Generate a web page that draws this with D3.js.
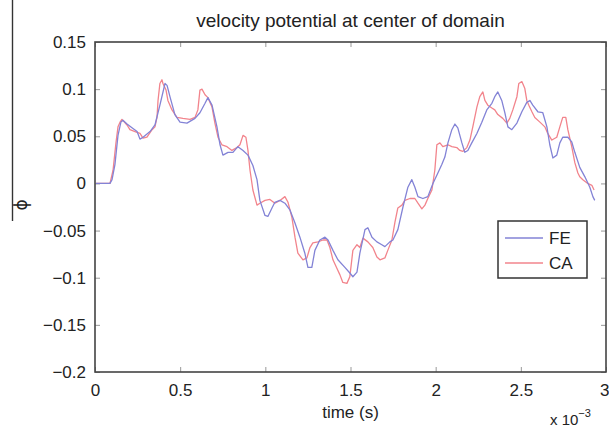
<!DOCTYPE html>
<html>
<head>
<meta charset="utf-8">
<script src="https://cdn.jsdelivr.net/npm/d3@7"></script>
<style>
  body { margin: 0; background: #fff; }
  svg { display: block; font-family: "Liberation Sans", Arial, sans-serif; }
</style>
</head>
<body>
<div id="chart"></div>
<script>
// time in units of 1e-3 s, phi values
const feTime = [0.006, 0.088, 0.100, 0.117, 0.135, 0.152, 0.164, 0.188, 0.217, 0.247, 0.264, 0.282, 0.323, 0.352, 0.381, 0.411, 0.423, 0.440, 0.469, 0.499, 0.540, 0.587, 0.616, 0.646, 0.663, 0.687, 0.716, 0.734, 0.751, 0.781, 0.810, 0.839, 0.869, 0.898, 0.927, 0.951, 0.968, 0.998, 1.015, 1.039, 1.056, 1.086, 1.115, 1.144, 1.174, 1.203, 1.232, 1.250, 1.273, 1.291, 1.320, 1.350, 1.368, 1.397, 1.426, 1.467, 1.496, 1.514, 1.538, 1.555, 1.585, 1.602, 1.626, 1.655, 1.684, 1.702, 1.731, 1.749, 1.778, 1.808, 1.837, 1.860, 1.878, 1.896, 1.925, 1.954, 1.984, 2.013, 2.036, 2.054, 2.072, 2.095, 2.113, 2.130, 2.154, 2.171, 2.189, 2.212, 2.242, 2.271, 2.300, 2.330, 2.347, 2.365, 2.388, 2.406, 2.424, 2.447, 2.477, 2.506, 2.535, 2.553, 2.570, 2.600, 2.629, 2.653, 2.670, 2.688, 2.711, 2.729, 2.746, 2.776, 2.799, 2.817, 2.846, 2.876, 2.905, 2.923, 2.934];
const feValues = [0.0, 0.0, 0.004, 0.020, 0.051, 0.065, 0.067, 0.063, 0.059, 0.055, 0.047, 0.049, 0.055, 0.062, 0.083, 0.106, 0.104, 0.092, 0.073, 0.065, 0.064, 0.069, 0.075, 0.085, 0.091, 0.083, 0.060, 0.041, 0.030, 0.033, 0.033, 0.039, 0.035, 0.030, 0.019, 0.004, -0.018, -0.034, -0.035, -0.026, -0.020, -0.018, -0.021, -0.028, -0.042, -0.057, -0.074, -0.089, -0.089, -0.071, -0.060, -0.057, -0.060, -0.071, -0.081, -0.089, -0.095, -0.099, -0.094, -0.074, -0.049, -0.047, -0.057, -0.062, -0.065, -0.067, -0.062, -0.060, -0.049, -0.025, -0.004, 0.004, -0.004, -0.014, -0.016, -0.014, 0.0, 0.011, 0.020, 0.028, 0.043, 0.057, 0.063, 0.059, 0.043, 0.033, 0.035, 0.043, 0.053, 0.065, 0.078, 0.085, 0.092, 0.097, 0.088, 0.075, 0.060, 0.057, 0.064, 0.076, 0.086, 0.088, 0.083, 0.076, 0.075, 0.060, 0.041, 0.027, 0.030, 0.043, 0.049, 0.049, 0.044, 0.033, 0.017, 0.007, -0.004, -0.014, -0.018];

const caTime = [0.006, 0.088, 0.106, 0.123, 0.135, 0.147, 0.158, 0.188, 0.205, 0.235, 0.264, 0.282, 0.305, 0.335, 0.352, 0.364, 0.370, 0.381, 0.393, 0.399, 0.417, 0.428, 0.452, 0.481, 0.516, 0.558, 0.587, 0.604, 0.616, 0.628, 0.646, 0.663, 0.687, 0.704, 0.722, 0.745, 0.775, 0.804, 0.833, 0.851, 0.869, 0.886, 0.898, 0.910, 0.927, 0.951, 0.968, 0.998, 1.027, 1.056, 1.086, 1.115, 1.133, 1.156, 1.174, 1.191, 1.221, 1.244, 1.262, 1.279, 1.309, 1.338, 1.362, 1.379, 1.397, 1.420, 1.438, 1.455, 1.479, 1.496, 1.514, 1.538, 1.555, 1.573, 1.602, 1.631, 1.655, 1.673, 1.702, 1.719, 1.743, 1.761, 1.778, 1.802, 1.819, 1.849, 1.878, 1.896, 1.919, 1.937, 1.954, 1.978, 1.995, 2.007, 2.025, 2.042, 2.072, 2.095, 2.124, 2.142, 2.160, 2.183, 2.201, 2.218, 2.242, 2.259, 2.277, 2.289, 2.306, 2.330, 2.347, 2.365, 2.394, 2.418, 2.435, 2.453, 2.477, 2.488, 2.506, 2.523, 2.535, 2.547, 2.565, 2.582, 2.612, 2.641, 2.658, 2.682, 2.711, 2.729, 2.746, 2.764, 2.776, 2.799, 2.817, 2.835, 2.846, 2.864, 2.893, 2.917, 2.930];
const caValues = [0.0, 0.0, 0.014, 0.043, 0.060, 0.065, 0.068, 0.062, 0.057, 0.055, 0.053, 0.048, 0.049, 0.057, 0.060, 0.070, 0.088, 0.106, 0.110, 0.106, 0.099, 0.088, 0.078, 0.070, 0.069, 0.068, 0.070, 0.078, 0.099, 0.100, 0.094, 0.091, 0.081, 0.064, 0.049, 0.041, 0.039, 0.035, 0.038, 0.041, 0.051, 0.049, 0.035, 0.014, -0.007, -0.023, -0.021, -0.018, -0.017, -0.021, -0.018, -0.014, -0.020, -0.036, -0.057, -0.074, -0.081, -0.079, -0.068, -0.063, -0.062, -0.060, -0.060, -0.068, -0.081, -0.090, -0.097, -0.105, -0.106, -0.099, -0.071, -0.065, -0.068, -0.058, -0.062, -0.068, -0.078, -0.081, -0.079, -0.071, -0.060, -0.041, -0.026, -0.023, -0.018, -0.016, -0.016, -0.021, -0.027, -0.023, -0.016, -0.007, 0.014, 0.041, 0.043, 0.039, 0.041, 0.039, 0.038, 0.035, 0.034, 0.038, 0.046, 0.060, 0.081, 0.092, 0.097, 0.088, 0.083, 0.080, 0.078, 0.073, 0.069, 0.064, 0.069, 0.078, 0.092, 0.106, 0.108, 0.101, 0.088, 0.083, 0.076, 0.070, 0.065, 0.060, 0.053, 0.046, 0.049, 0.060, 0.070, 0.070, 0.057, 0.039, 0.022, 0.011, 0.007, 0.004, 0.000, -0.002, -0.007];

const xTicks = [0, 0.5, 1, 1.5, 2, 2.5, 3];
const xTickLabels = ["0", "0.5", "1", "1.5", "2", "2.5", "3"];
const yTicks = [0.15, 0.1, 0.05, 0, -0.05, -0.1, -0.15, -0.2];
const yTickLabels = ["0.15", "0.1", "0.05", "0", "\u22120.05", "\u22120.1", "\u22120.15", "\u22120.2"];
const seriesNames = ["FE", "CA"];
const seriesColors = ["#8383d6", "#f2848c"];

const margin = { top: 42, right: 3, bottom: 57, left: 95 };
const W = 609, H = 429;
const width = W - margin.left - margin.right;
const height = H - margin.top - margin.bottom;

const svg = d3.select("#chart").append("svg")
    .attr("width", W)
    .attr("height", H);

// scan artefact: thin line at the page edge with the y label
svg.append("line")
    .attr("x1", 12.5).attr("x2", 12.5)
    .attr("y1", 0).attr("y2", 221)
    .attr("stroke", "#333").attr("stroke-width", 1.4);

const g = svg.append("g")
    .attr("transform", `translate(${margin.left},${margin.top})`);

const x = d3.scaleLinear().domain([0, 3]).range([0, width]);
const y = d3.scaleLinear().domain([-0.2, 0.15]).range([height, 0]);

// axes (ticks point inward, box on)
const tickLen = 5;
const xAxis = g.append("g")
    .attr("transform", `translate(0,${height})`)
    .call(d3.axisBottom(x).tickValues(xTicks).tickFormat((d, i) => xTickLabels[i])
        .tickSizeInner(-tickLen).tickSizeOuter(0).tickPadding(12));
const xTop = g.append("g")
    .call(d3.axisTop(x).tickValues(xTicks).tickFormat("")
        .tickSizeInner(-tickLen).tickSizeOuter(0));
const yAxis = g.append("g")
    .call(d3.axisLeft(y).tickValues(yTicks).tickFormat((d, i) => yTickLabels[i])
        .tickSizeInner(-tickLen).tickSizeOuter(0).tickPadding(9));
const yRight = g.append("g")
    .attr("transform", `translate(${width},0)`)
    .call(d3.axisRight(y).tickValues(yTicks).tickFormat("")
        .tickSizeInner(-tickLen).tickSizeOuter(0));

[xAxis, xTop, yAxis, yRight].forEach(a => {
    a.select(".domain").remove();
    a.selectAll(".tick line").attr("stroke", "#999").attr("stroke-width", 1);
    a.selectAll(".tick text")
        .attr("font-size", 17)
        .attr("fill", "#222")
        .attr("font-family", "Liberation Sans, Arial, sans-serif");
});

// keep the last x label inside the page
xAxis.selectAll(".tick text")
    .filter(d => d === 3)
    .attr("text-anchor", "end")
    .attr("dx", 3);

// lines
const line = d3.line()
    .x(d => x(d[0]))
    .y(d => y(d[1]));

const series = [
    d3.zip(feTime, feValues),
    d3.zip(caTime, caValues)
];

g.selectAll(".series")
    .data([series[1], series[0]])
    .enter()
    .append("path")
    .attr("class", "series")
    .attr("fill", "none")
    .attr("stroke", (d, i) => i === 0 ? seriesColors[1] : seriesColors[0])
    .attr("stroke-width", 1.3)
    .attr("stroke-linejoin", "round")
    .attr("d", line);

// box
g.append("rect")
    .attr("x", 0).attr("y", 0)
    .attr("width", width).attr("height", height)
    .attr("fill", "none")
    .attr("stroke", "#444")
    .attr("stroke-width", 1.6);

// legend
const legend = g.append("g")
    .attr("transform", `translate(${403},${179})`);

legend.append("rect")
    .attr("width", 89).attr("height", 57)
    .attr("fill", "#fff")
    .attr("stroke", "#333")
    .attr("stroke-width", 1.5);

seriesNames.forEach((name, i) => {
    legend.append("line")
        .attr("x1", 7).attr("x2", 45)
        .attr("y1", 17 + i * 25).attr("y2", 17 + i * 25)
        .attr("stroke", seriesColors[i])
        .attr("stroke-width", 1.3);
    legend.append("text")
        .attr("x", 51)
        .attr("y", 23 + i * 25)
        .attr("font-size", 17)
        .attr("fill", "#222")
        .text(name);
});

// title and labels
svg.append("text")
    .attr("x", margin.left + width / 2)
    .attr("y", 27)
    .attr("text-anchor", "middle")
    .attr("font-size", 19)
    .attr("fill", "#222")
    .text("velocity potential at center of domain");

svg.append("text")
    .attr("x", margin.left + width / 2)
    .attr("y", 418)
    .attr("text-anchor", "middle")
    .attr("font-size", 17)
    .attr("fill", "#222")
    .text("time (s)");

svg.append("text")
    .attr("transform", "translate(27,205) rotate(-90)")
    .attr("text-anchor", "middle")
    .attr("font-size", 17)
    .attr("fill", "#222")
    .attr("font-family", "DejaVu Sans, sans-serif")
    .text("\u03d5");

const mult = svg.append("text")
    .attr("x", 550)
    .attr("y", 425)
    .attr("font-size", 15)
    .attr("fill", "#222");
mult.append("tspan").text("x 10");
mult.append("tspan")
    .attr("dy", -8)
    .attr("font-size", 11)
    .text("\u22123");
</script>
</body>
</html>
